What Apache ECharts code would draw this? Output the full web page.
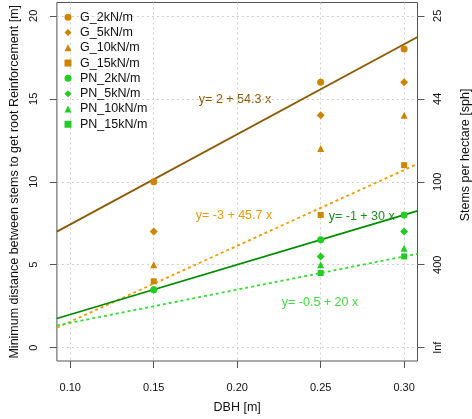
<!DOCTYPE html>
<html>
<head>
<meta charset="utf-8">
<script src="https://cdn.jsdelivr.net/npm/echarts@6/dist/echarts.min.js"></script>
<style>
html,body{margin:0;padding:0;background:#fff;}
#chart{width:472px;height:419px;}
</style>
</head>
<body>
<div id="chart"></div>
<script>
// ---- data ----
const dbh = [0.15, 0.25, 0.30];
const G_2 = [10, 16, 18];
const G_5 = [7, 14, 16];
const G_10 = [5, 12, 14];
const G_15 = [4, 8, 11];
const PN_2 = [3.5, 6.5, 8];
const PN_5 = [3.5, 5.5, 7];
const PN_10 = [null, 5, 6];
const PN_15 = [null, 4.5, 5.5];
const seriesNames = ['G_2kN/m','G_5kN/m','G_10kN/m','G_15kN/m','PN_2kN/m','PN_5kN/m','PN_10kN/m','PN_15kN/m'];

// fitted lines: y = a + b x
const fitIntercepts = [2, -3, -1, -0.5];
const fitSlopes = [54.3, 45.7, 30, 20];
const fitLabels = ['y= 2 + 54.3 x', 'y= -3 + 45.7 x', 'y= -1 + 30 x', 'y= -0.5 + 20 x'];

const xTicks = [0.10, 0.15, 0.20, 0.25, 0.30];
const yTicks = [0, 5, 10, 15, 20];
const rightTickLabels = ['Inf', '400', '100', '44', '25'];

// ---- styling ----
const FONT = 'Liberation Sans, Arial, Helvetica, sans-serif';
const cG = '#CD8500', cPN = '#22CC22';
const lineColors = ['#8B5A00', '#EE9A00', '#008B00', '#33DD33'];
const lineTypes = ['solid', [3, 3], 'solid', [3, 3]];
const textColors = ['#8B5A00', '#E69A10', '#1E8B1E', '#44D844'];
const symbols = ['circle', 'diamond', 'triangle', 'rect'];
const symSizes = [7, 8, 7, 6];
const XMIN = 0.092, XMAX = 0.308, YMIN = -0.8, YMAX = 20.8;

const pts = [G_2, G_5, G_10, G_15, PN_2, PN_5, PN_10, PN_15];
const series = [];
lineColors.forEach((c, i) => {
  series.push({
    type: 'line', silent: true, showSymbol: false, symbol: 'none', z: 2,
    lineStyle: { color: c, width: 1.8, type: lineTypes[i] },
    data: [XMIN, XMAX].map(x => [x, fitIntercepts[i] + fitSlopes[i] * x])
  });
});
pts.forEach((arr, i) => {
  series.push({
    name: seriesNames[i], type: 'scatter', z: 3,
    symbol: symbols[i % 4], symbolSize: symSizes[i % 4],
    itemStyle: { color: i < 4 ? cG : cPN, opacity: 1 },
    data: dbh.map((x, j) => arr[j] == null ? null : [x, arr[j]]).filter(d => d)
  });
});

const chart = echarts.init(document.getElementById('chart'), null, { renderer: 'canvas' });
const gridL = 51.5, gridT = 2.5, gridR = 54.5, gridB = 52.5;
const axisTickStyle = { show: true, length: 7, lineStyle: { color: '#555', width: 1 } };
const splitStyle = { show: true, lineStyle: { color: '#cfcfcf', type: [2, 3], width: 1 } };

chart.setOption({
  animation: false,
  backgroundColor: '#fff',
  textStyle: { fontFamily: FONT },
  grid: { left: gridL, top: gridT, right: gridR, bottom: gridB, show: true, borderColor: '#555', borderWidth: 1, backgroundColor: 'transparent' },
  legend: {
    data: seriesNames, orient: 'vertical', left: 59.5, top: 4.5,
    itemWidth: 7, itemHeight: 7, itemGap: 0,
    textStyle: { fontFamily: FONT, fontSize: 12.5, color: '#111', lineHeight: 15.3, padding: [0, 0, 0, 3.5] },
    selectedMode: false
  },
  xAxis: {
    type: 'value', min: XMIN, max: XMAX,
    name: 'DBH [m]', nameLocation: 'middle', nameGap: 40,
    nameTextStyle: { fontFamily: FONT, fontSize: 12.5, color: '#111' },
    axisLine: { show: false, onZero: false },
    axisTick: Object.assign({ customValues: xTicks }, axisTickStyle),
    axisLabel: { customValues: xTicks, formatter: v => v.toFixed(2), margin: 21, fontFamily: FONT, fontSize: 11, color: '#111' },
    splitLine: splitStyle
  },
  yAxis: [{
    type: 'value', min: YMIN, max: YMAX, position: 'left',
    name: 'Minimum distance between stems to get root Reinforcement [m]', nameLocation: 'middle', nameGap: 34, nameRotate: 90,
    nameTextStyle: { fontFamily: FONT, fontSize: 12.5, color: '#111' },
    axisLine: { show: false, onZero: false },
    axisTick: Object.assign({ customValues: yTicks }, axisTickStyle),
    axisLabel: { customValues: yTicks, rotate: 90, margin: 17, fontFamily: FONT, fontSize: 11, color: '#111' },
    splitLine: splitStyle
  }, {
    type: 'value', min: YMIN, max: YMAX, position: 'right',
    axisLine: { show: false, onZero: false },
    axisTick: Object.assign({ customValues: yTicks }, axisTickStyle),
    axisLabel: { customValues: yTicks, rotate: 90, margin: 15, fontFamily: FONT, fontSize: 11, color: '#111',
      formatter: v => rightTickLabels[yTicks.indexOf(v)] },
    splitLine: { show: false }
  }],
  graphic: [
    { type: 'text', x: 466, y: 155, rotation: Math.PI / 2, style: { text: 'Stems per hectare [sph]', fill: '#111', font: '12.5px ' + FONT, textAlign: 'center', textVerticalAlign: 'middle' } },
    { type: 'text', x: 235, y: 100, style: { text: fitLabels[0], fill: textColors[0], font: '12.5px ' + FONT, textAlign: 'center', textVerticalAlign: 'middle' } },
    { type: 'text', x: 234, y: 216, style: { text: fitLabels[1], fill: textColors[1], font: '12.5px ' + FONT, textAlign: 'center', textVerticalAlign: 'middle' } },
    { type: 'text', x: 361.7, y: 216.7, style: { text: fitLabels[2], fill: textColors[2], font: '12.5px ' + FONT, textAlign: 'center', textVerticalAlign: 'middle' } },
    { type: 'text', x: 320, y: 302.7, style: { text: fitLabels[3], fill: textColors[3], font: '12.5px ' + FONT, textAlign: 'center', textVerticalAlign: 'middle' } }
  ],
  series: series
});
</script>
</body>
</html>
